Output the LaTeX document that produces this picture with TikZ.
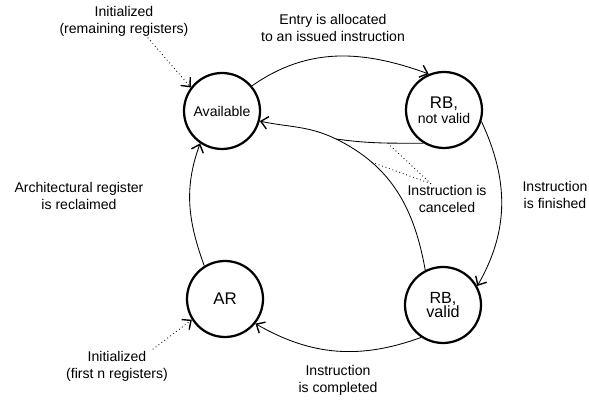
\documentclass[tikz,border=0pt]{standalone}
\usepackage{fontspec}
\setmainfont{Liberation Sans}
\usetikzlibrary{arrows.meta}

\begin{document}
\begin{tikzpicture}[>={Straight Barb[length=5pt,width=9pt,line width=1pt]},
    state/.style={circle, draw, line width=1.6pt, minimum size=1.9cm, inner sep=0pt, align=center},
    edge/.style={line width=0.6pt},
    init/.style={dotted, line width=0.6pt},
    lbl/.style={align=center, inner sep=1pt}]
  \useasboundingbox (0,0) rectangle (14.725,10.025);

  % === STATES ===
  \node[state] (avail) at (5.55,7.25) {Available};
  \node[state, font=\fontsize{10}{10.6}\selectfont] (rbn) at (11.1,7.275) {{\large RB,}\\not valid};
  \node[state, font=\large] (ar) at (5.625,2.55) {AR};
  \node[state, font=\fontsize{11.5}{10.6}\selectfont] (rbv) at (11.075,2.4) {RB,\\valid};

  % === LABELS ===
  \node[lbl] (initrem) at (3.1,9.5) {Initialized\\(remaining registers)};
  \node[lbl] (alloc) at (8.325,9.325) {Entry is allocated\\to an issued instruction};
  \node[lbl] (cancel) at (11.175,5.05) {Instruction is\\canceled};
  \node[lbl] (finish) at (13.875,5.15) {Instruction\\is finished};
  \node[lbl] (reclaim) at (1.975,5.125) {Architectural register\\is reclaimed};
  \node[lbl] (initfirst) at (2.925,0.875) {Initialized\\(first n registers)};
  \node[lbl] (complete) at (8.45,0.525) {Instruction\\is completed};

  % === TRANSITIONS ===
  \draw[edge,->] (avail.40) to[out=35, in=160] (rbn.113);
  \draw[edge,->] (rbn.-17) to[out=-65, in=60] (rbv.29);
  \coordinate (merge) at (8.4,6.55);
  \draw[edge,->] (rbv.117) to[out=100, in=-26] coordinate[pos=0.75] (cancB) (merge)
    to[out=154, in=-12] (avail.-15);
  \draw[edge] (rbn.238) to[out=180, in=-8] coordinate[pos=0.4] (cancA) (merge);
  \draw[edge,->] (ar.122) to[out=110, in=-110] (avail.-124);
  \draw[edge,->] (rbv.-124) to[out=200, in=-30] (ar.-39);

  % initialisation
  \draw[init,->] (initrem.-35) -- (avail.143);
  \draw[init,->] (initfirst.25) -- (ar.-148);

  % canceled
  \draw[init] ([xshift=-0.4cm]cancel.north) -- (cancA);
  \draw[init] ([xshift=-0.4cm]cancel.north) -- (cancB);
\end{tikzpicture}
\end{document}
